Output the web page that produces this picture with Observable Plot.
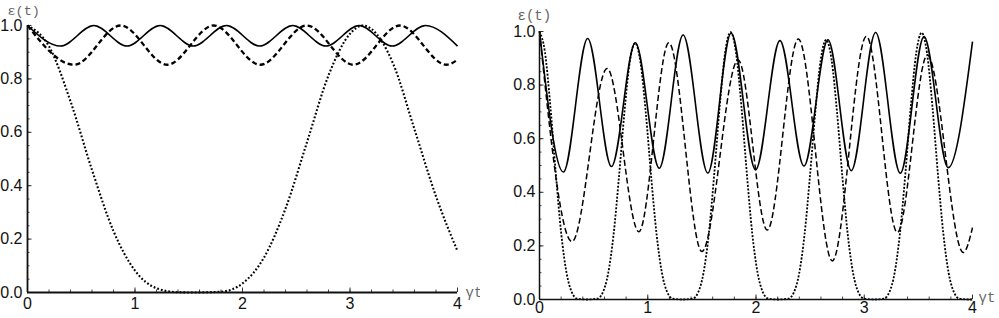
<!DOCTYPE html>
<html><head><meta charset="utf-8">
<script src="https://cdn.jsdelivr.net/npm/d3@7"></script>
<script src="https://cdn.jsdelivr.net/npm/@observablehq/plot@0.6"></script>
<style>
html,body{margin:0;padding:0;background:#fff;}
#wrap{position:relative;width:999px;height:318px;overflow:hidden;background:#fff;}
#left{position:absolute;left:0;top:0;}
#right{position:absolute;left:480px;top:0;}
</style></head><body>
<div id="wrap"><div id="left"></div><div id="right"></div></div>
<script>
// ---------- tick labels / titles ----------
const xMajor = [0, 1, 2, 3, 4];
const xTickLabels = ["0", "1", "2", "3", "4"];
const yMajor = [0, 0.2, 0.4, 0.6, 0.8, 1.0];
const yTickLabels = ["0.0", "0.2", "0.4", "0.6", "0.8", "1.0"];
const yTitle = "ε(t)";
const xTitle = "γt";

// ---------- left panel data ----------
const leftSolidT = [0, 0.308, 0.617, 0.925, 1.234, 1.542, 1.851, 2.159, 2.468, 2.776, 3.085, 3.393, 3.702, 4.0];
const leftSolidV = [1, 0.923, 1, 0.923, 1, 0.923, 1, 0.923, 1, 0.923, 1, 0.923, 1, 0.923];

const leftDashT = [0, 0.433, 0.866, 1.299, 1.732, 2.165, 2.598, 3.031, 3.464, 3.897, 4.0];
const leftDashV = [1, 0.853, 1, 0.853, 1, 0.853, 1, 0.853, 1, 0.853, 0.872];

const leftDotT = [0, 0.2, 0.4, 0.6, 0.8, 1.0, 1.2, 1.4, 1.56, 1.8, 2.0, 2.2, 2.4, 2.6, 2.8, 3.0, 3.12, 3.2, 3.4, 3.6, 3.8, 4.0];
const leftDotV = [1, 0.922, 0.716, 0.459, 0.230, 0.082, 0.016, 0.001, 0, 0.003, 0.034, 0.131, 0.314, 0.563, 0.813, 0.969, 1.0, 0.987, 0.858, 0.611, 0.360, 0.155];

// ---------- right panel data ----------
const rightSolidT = [0, 0.221, 0.445, 0.665, 0.885, 1.106, 1.327, 1.555, 1.770, 1.996, 2.221, 2.443, 2.665, 2.880, 3.105, 3.333, 3.552, 3.775, 4.0];
const rightSolidV = [1.0, 0.476, 0.974, 0.496, 0.958, 0.490, 0.987, 0.472, 0.994, 0.484, 0.966, 0.498, 0.969, 0.481, 0.996, 0.471, 0.981, 0.492, 0.962];

const rightDashT = [0, 0.30, 0.625, 0.918, 1.195, 1.50, 1.835, 2.104, 2.391, 2.705, 3.02, 3.306, 3.583, 3.915, 4.0];
const rightDashV = [1.0, 0.216, 0.862, 0.253, 0.958, 0.179, 0.894, 0.259, 0.972, 0.144, 0.982, 0.25, 0.912, 0.175, 0.268];

const rightDotT = [
  0, 0.05, 0.1, 0.15, 0.2, 0.25, 0.3, 0.35, 0.441,
  0.533, 0.583, 0.633, 0.683, 0.733, 0.783, 0.833, 0.883, 0.933, 0.983, 1.033, 1.083, 1.133, 1.183, 1.233, 1.324,
  1.415, 1.465, 1.515, 1.565, 1.615, 1.665, 1.715, 1.765, 1.815, 1.865, 1.915, 1.965, 2.015, 2.065, 2.115, 2.206,
  2.298, 2.348, 2.398, 2.448, 2.498, 2.548, 2.598, 2.648, 2.698, 2.748, 2.798, 2.848, 2.898, 2.948, 2.998, 3.089,
  3.18, 3.23, 3.28, 3.33, 3.38, 3.43, 3.48, 3.53, 3.58, 3.63, 3.68, 3.73, 3.78, 3.83, 3.88, 3.971, 4.0];
const rightDotV = [
  1, 0.924, 0.723, 0.473, 0.249, 0.099, 0.026, 0.003, 0,
  0.003, 0.025, 0.095, 0.238, 0.452, 0.692, 0.884, 0.957, 0.884, 0.692, 0.452, 0.238, 0.095, 0.025, 0.003, 0,
  0.003, 0.026, 0.099, 0.248, 0.472, 0.722, 0.922, 0.998, 0.922, 0.722, 0.472, 0.248, 0.099, 0.026, 0.003, 0,
  0.003, 0.025, 0.096, 0.241, 0.458, 0.701, 0.895, 0.969, 0.895, 0.701, 0.458, 0.241, 0.096, 0.025, 0.003, 0,
  0.003, 0.026, 0.098, 0.248, 0.470, 0.720, 0.919, 0.995, 0.919, 0.720, 0.470, 0.248, 0.098, 0.026, 0.003, 0, 0];

const zip = (T, V) => T.map((t, i) => ({t, v: V[i]}));

function panel(cfg) {
  const W = cfg.width - cfg.ml - cfg.mr;
  const H = cfg.height - cfg.mt - cfg.mb;
  const xMinor = d3.range(0, 4.0001, 0.2);
  const yMinor = d3.range(0, 1.0001, 0.05);
  const titleFont = "'Liberation Mono', 'DejaVu Sans Mono', monospace";
  const lineMarks = cfg.series.map(s => Plot.line(zip(s.T, s.V), {
    x: "t", y: "v", curve: "monotone-x", stroke: "#000",
    strokeWidth: s.w, strokeDasharray: s.dash, strokeLinecap: "butt"
  }));
  return Plot.plot({
    width: cfg.width, height: cfg.height,
    marginLeft: cfg.ml, marginRight: cfg.mr, marginTop: cfg.mt, marginBottom: cfg.mb,
    x: {domain: [0, 4]},
    y: {domain: [0, 1]},
    style: {fontFamily: "'Liberation Sans', Arial, sans-serif", fontSize: "16px", color: "#111", background: "#fff"},
    marks: [
      // minor + major ticks pointing inward
      Plot.tickX(xMinor, {x: d => d, insetTop: H - 2.5, stroke: "#444", strokeWidth: 1}),
      Plot.tickX(xMajor, {x: d => d, insetTop: H - 4.5, stroke: "#333", strokeWidth: 1}),
      Plot.tickY(yMinor, {y: d => d, insetRight: W - 2.5, stroke: "#444", strokeWidth: 1}),
      Plot.tickY(yMajor, {y: d => d, insetRight: W - 4.5, stroke: "#333", strokeWidth: 1}),
      ...lineMarks,
      Plot.ruleY([0], {stroke: "#111", strokeWidth: cfg.axisW}),
      Plot.ruleX([0], {stroke: "#111", strokeWidth: cfg.axisW}),
      Plot.axisX({ticks: xMajor, tickSize: 0, tickPadding: cfg.xPad, label: null,
        tickFormat: d => xTickLabels[xMajor.indexOf(d)], fill: "#111", fontSize: 16}),
      Plot.axisY({ticks: yMajor, tickSize: 0, tickPadding: cfg.yPad, label: null,
        tickFormat: d => yTickLabels[yMajor.findIndex(y => Math.abs(y - d) < 1e-9)], fill: "#111", fontSize: 16}),
      Plot.text([yTitle], {text: d => d, frameAnchor: "top-left", dx: cfg.yTdx, dy: cfg.yTdy,
        textAnchor: "start", fontFamily: titleFont, fontSize: cfg.yTfs, fill: "#666"}),
      Plot.text([xTitle], {text: d => d, frameAnchor: "bottom-right", dx: cfg.xTdx, dy: cfg.xTdy,
        textAnchor: "start", fontFamily: titleFont, fontSize: 14, fill: "#666"})
    ]
  });
}

document.getElementById("left").append(panel({
  width: 480, height: 318, ml: 27, mr: 23, mt: 25, mb: 26, axisW: 1.8,
  xPad: 5, yPad: 5, yTdx: -20, yTdy: -20, yTfs: 13.5, xTdx: 8, xTdy: 4,
  series: [
    {T: leftSolidT, V: leftSolidV, w: 1.6, dash: null},
    {T: leftDashT, V: leftDashV, w: 2.3, dash: "5,3"},
    {T: leftDotT, V: leftDotV, w: 2.1, dash: "1.8,2"}
  ]
}));

document.getElementById("right").append(panel({
  width: 519, height: 318, ml: 59, mr: 27, mt: 31, mb: 19, axisW: 1.5,
  xPad: 2, yPad: 4, yTdx: -22, yTdy: -21, yTfs: 14, xTdx: 6, xTdy: 2,
  series: [
    {T: rightSolidT, V: rightSolidV, w: 1.6, dash: null},
    {T: rightDashT, V: rightDashV, w: 1.5, dash: "6,3"},
    {T: rightDotT, V: rightDotV, w: 1.8, dash: "2,1.6"}
  ]
}));
</script></body></html>
